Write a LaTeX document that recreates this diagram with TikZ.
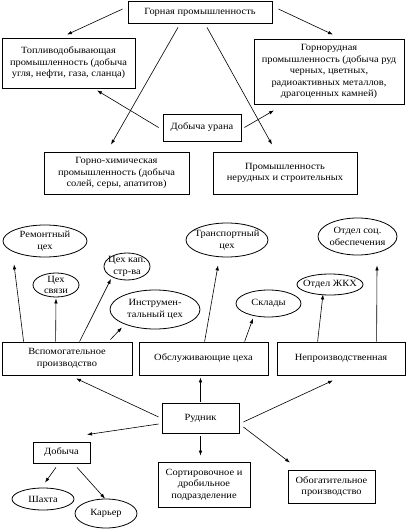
\documentclass[tikz,border=0pt]{standalone}
\usepackage{fontspec}
\setmainfont{Liberation Serif}[FakeStretch=1.1]
\usetikzlibrary{calc,shapes.geometric,arrows.meta}
\tikzset{
  every node/.style={font=\fontsize{9.5}{11.5}\selectfont},
  box/.style={draw, line width=0.8pt, rectangle, inner sep=0pt, align=center},
  ell/.style={draw, line width=0.8pt, ellipse, inner sep=0pt},
  lbl/.style={align=center, inner sep=0pt},
  arr/.style={line width=0.6pt, -{Latex[length=5pt,width=3.5pt]}},
}
\newcommand\ellnode[6]{%
  \node[ell, minimum width=#3, minimum height=#4] (#1) at (#2) {};
  \node[lbl] (#1T) at (#1) {#5};}
\begin{document}
\begin{tikzpicture}[x=1pt,y=-1pt]
\useasboundingbox (0,0) rectangle (408,532);
% upper part
\node[box, minimum width=144, minimum height=22] (top) at (200,12) {Горная промышленность};
\node[box, minimum width=133, minimum height=50] (topliv) at (68.5,63) {Топливодобывающая\\промышленность (добыча\\угля, нефти, газа, сланца)};
\node[box, minimum width=150, minimum height=65] (gorn) at (329,71.5) {Горнорудная\\промышленность (добыча руд\\черных, цветных,\\радиоактивных металлов,\\драгоценных камней)};
\node[box, minimum width=78, minimum height=27] (uran) at (202,127.5) {Добыча урана};
\node[box, minimum width=145, minimum height=42] (chem) at (116.5,173) {Горно-химическая\\промышленность (добыча\\солей, серы, апатитов)};
\node[box, minimum width=144, minimum height=42] (neryd) at (285,173) {Промышленность\\нерудных и строительных};

\draw[arr] ($(top.west)+(-5,-3)$) -- ($(topliv.north)+(-1.5,-3)$);
\draw[arr] ($(top.east)+(6,-3)$) -- ($(gorn.north)+(4,-4)$);
\draw[arr] ($(top.south)+(-22,4)$) -- ($(chem.north)+(-5.5,-7)$);
\draw[arr] ($(top.south)+(7,4)$) -- ($(neryd.north)+(-13,-7)$);
\draw[arr] ($(uran.west)+(-4,0)$) -- ($(topliv.south)+(28.5,2)$);
\draw[arr] ($(uran.east)+(3,0)$) -- ($(gorn.south)+(-55,6)$);

% lower part: ellipses
\ellnode{rem}{45,241}{84}{32}{Ремонтный\\цех}{}
\ellnode{svyaz}{56,285}{46}{24}{Цех\\связи}{}
\ellnode{kap}{127,266.5}{46}{27}{Цех кап.\\стр-ва}{}
\ellnode{instr}{155,309.5}{90}{39}{Инструмен-\\тальный цех}{}
\ellnode{transp}{227,240}{82}{34}{Транспортный\\цех}{}
\ellnode{sklady}{268.5,303.5}{65}{27}{Склады}{}
\ellnode{zhkh}{330,284.5}{66}{21}{Отдел ЖКХ}{}
\ellnode{soc}{357.5,236.5}{79}{37}{Отдел соц.\\обеспечения}{}

\node[box, minimum width=130, minimum height=33] (vspom) at (67,358.5) {Вспомогательное\\производство};
\node[box, minimum width=129, minimum height=33] (obsl) at (203.5,358.5) {Обслуживающие цеха};
\node[box, minimum width=128, minimum height=33] (nepr) at (341,358.5) {Непроизводственная};
\node[box, minimum width=77, minimum height=30] (rudnik) at (200.5,418) {Рудник};
\node[box, minimum width=57, minimum height=21] (dob) at (61.5,452.5) {Добыча};
\ellnode{shakhta}{43,499}{62}{22}{Шахта}{}
\ellnode{karier}{106,513.5}{62}{29}{Карьер}{}
\node[box, minimum width=92, minimum height=45] (sort) at (204,484.5) {Сортировочное и\\дробильное\\подразделение};
\node[box, minimum width=87, minimum height=33] (obog) at (331.5,486.5) {Обогатительное\\производство};

\draw[arr] ($(vspom.north west)+(22,0)$) -- ($(rem.south)+(-31,7)$);
\draw[arr] ($(vspom.north west)+(54,0)$) -- ($(svyaz.south)+(0,1)$);
\draw[arr] ($(vspom.north west)+(78,0)$) -- ($(kap.south)+(-16,-1.5)$);
\draw[arr] ($(vspom.north east)+(-22,-2)$) -- ($(instr.south)+(-33,-2)$);
\draw[arr] ($(obsl.north west)+(66,0)$) -- ($(transp.south)+(-9,8)$);
\draw[arr] ($(obsl.north west)+(106,0)$) -- ($(sklady.south)+(-15.5,1)$);
\draw[arr] ($(nepr.north west)+(41,0)$) -- ($(zhkh.south)+(-7,-1)$);
\draw[arr] ($(nepr.north west)+(100,0)$) -- ($(soc.south)+(19.5,10)$);

\draw[arr] ($(rudnik.west)+(-3,-1)$) -- ($(vspom.south)+(9,3)$);
\draw[arr] ($(rudnik.north)+(0,-1)$) -- ($(rudnik.north |- obsl.south)+(0,2)$);
\draw[arr] ($(rudnik.east)+(4,4)$) -- ($(nepr.south)+(-8,5)$);
\draw[arr] ($(rudnik.west)+(-3,6)$) -- ($(dob.north)+(25.5,-7)$);
\draw[arr] ($(rudnik.south)+(0,3)$) -- ($(rudnik.south |- sort.north)+(0,-6)$);
\draw[arr] ($(rudnik.east)+(4,9)$) -- ($(obog.north)+(-41.5,-7)$);
\draw[arr] ($(dob.south)+(-5.5,4)$) -- ($(shakhta.north)+(2,-5)$);
\draw[arr] ($(dob.south)+(15.5,4)$) -- ($(karier.north)+(-1,0)$);
\end{tikzpicture}
\end{document}
